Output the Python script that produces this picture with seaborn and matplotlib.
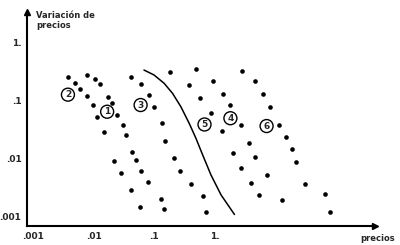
import numpy as np
import pandas as pd
import matplotlib
matplotlib.use("Agg")
import matplotlib.pyplot as plt
import matplotlib.ticker as mticker
import seaborn as sns

# ---- data ----
s1_x = [0.00787, 0.0104, 0.01277, 0.01754, 0.0202, 0.0244, 0.0299, 0.0344, 0.0434, 0.0505, 0.0594, 0.0787]
s1_y = [0.272, 0.235, 0.190, 0.1125, 0.0910, 0.0553, 0.0381, 0.0251, 0.01283, 0.00935, 0.00613, 0.00392]
s2_x = [0.00376, 0.00484, 0.00601, 0.00778, 0.00962, 0.0115, 0.01466, 0.0218, 0.0284, 0.0417, 0.0573]
s2_y = [0.248, 0.200, 0.154, 0.117, 0.082, 0.0511, 0.0289, 0.0092, 0.00573, 0.00289, 0.00146]
s3_x = [0.0406, 0.0611, 0.0807, 0.1004, 0.136, 0.1486, 0.2075, 0.2636, 0.397, 0.1276, 0.1449, 0.628, 0.720]
s3_y = [0.254, 0.188, 0.125, 0.0777, 0.0403, 0.0200, 0.01036, 0.0062, 0.00367, 0.00203, 0.00137, 0.00231, 0.00121]
s4_x = [0.492, 0.941, 1.377, 1.80, 2.71, 3.64, 4.50, 7.11, 12.8]
s4_y = [0.340, 0.217, 0.128, 0.082, 0.0377, 0.0183, 0.01053, 0.0053, 0.00197]
s5_x = [0.182, 0.3715, 0.566, 0.861, 1.327, 2.018, 2.71, 3.97, 5.32]
s5_y = [0.306, 0.181, 0.108, 0.0613, 0.0297, 0.01233, 0.00698, 0.00386, 0.00235]
s6_x = [2.81, 4.50, 6.21, 8.20, 11.4, 15.1, 19.0, 21.5, 30.4, 65.2, 78.0]
s6_y = [0.322, 0.212, 0.130, 0.0777, 0.0377, 0.0238, 0.01444, 0.00885, 0.00371, 0.00244, 0.00121]

curve_x = [0.0675, 0.0989, 0.145, 0.1995, 0.274, 0.376, 0.486, 0.628, 0.861, 1.262, 2.10]
curve_y = [0.331, 0.272, 0.196, 0.132, 0.0777, 0.0403, 0.0223, 0.01153, 0.00523, 0.00238, 0.00110]

label_names = ["1", "2", "3", "4", "5", "6"]
label_x = [0.01667, 0.00376, 0.0594, 1.80, 0.673, 7.11]
label_y = [0.0637, 0.125, 0.083, 0.0493, 0.0385, 0.0362]

tick_vals = [0.001, 0.01, 0.1, 1]
tick_labels = [".001", ".01", ".1", "1."]

# ---- build frames ----
frames = []
for name, xs, ys in [("1", s1_x, s1_y), ("2", s2_x, s2_y), ("3", s3_x, s3_y),
                     ("4", s4_x, s4_y), ("5", s5_x, s5_y), ("6", s6_x, s6_y)]:
    frames.append(pd.DataFrame({"x": xs, "y": ys, "grupo": name}))
dots = pd.concat(frames, ignore_index=True)
curve = pd.DataFrame({"x": curve_x, "y": curve_y})

sns.set_style("white")
plt.rcParams["font.family"] = ["DejaVu Sans"]

fig = plt.figure(figsize=(4.0, 2.45), dpi=100)
ax = fig.add_axes([27 / 400, 1 - 226 / 245, (375 - 27) / 400, (226 - 12) / 245])

ax.set_xscale("log")
ax.set_yscale("log")

sns.scatterplot(data=dots, x="x", y="y", color="black", s=11, linewidth=0,
                legend=False, ax=ax)
sns.lineplot(data=curve, x="x", y="y", sort=False, color="black", lw=1.1,
             estimator=None, ax=ax)

for n, lx, ly in zip(label_names, label_x, label_y):
    ax.text(lx, ly, n, ha="center", va="center", fontsize=6.5, fontweight="bold",
            bbox=dict(boxstyle="circle,pad=0.22", fc="white", ec="black", lw=1.0))

ax.set_xlim(10 ** -3.1, 10 ** 2.64)
ax.set_ylim(10 ** -3.156, 10 ** 0.515)

ax.set_xticks(tick_vals)
ax.set_xticklabels(tick_labels)
ax.set_yticks(tick_vals)
ax.set_yticklabels(tick_labels)
minor = [k * 10.0 ** e for e in (-3, -2, -1) for k in range(2, 10)]
ax.xaxis.set_minor_locator(mticker.FixedLocator(minor))
ax.yaxis.set_minor_locator(mticker.FixedLocator(minor))
ax.xaxis.set_minor_formatter(mticker.NullFormatter())
ax.yaxis.set_minor_formatter(mticker.NullFormatter())
ax.tick_params(which="major", direction="in", length=4, width=1.2,
               labelsize=6.5, pad=4, color="black")
ax.tick_params(which="minor", direction="in", length=2.5, width=0.9, color="black")
for lbl in ax.get_xticklabels() + ax.get_yticklabels():
    lbl.set_fontweight("bold")

ax.set_xlabel("")
ax.set_ylabel("")
for side in ("top", "right"):
    ax.spines[side].set_visible(False)
for side in ("left", "bottom"):
    ax.spines[side].set_linewidth(1.5)
    ax.spines[side].set_color("black")

ax.plot(1, 0, ">k", transform=ax.transAxes, clip_on=False, ms=4)
ax.plot(0, 1, "^k", transform=ax.transAxes, clip_on=False, ms=4)

fig.text(36 / 400, 1 - 11.5 / 245, "Variación de\nprecios", ha="left", va="top",
         fontsize=6, fontweight="bold", linespacing=1.1)
fig.text(395 / 400, 1 - 238 / 245, "precios", ha="right", va="center",
         fontsize=6, fontweight="bold")

fig.savefig("out.png", dpi=100)
